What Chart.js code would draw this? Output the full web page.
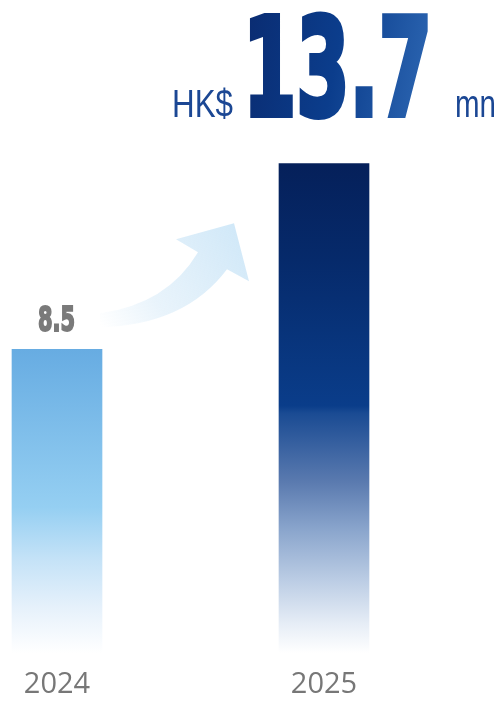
<!DOCTYPE html>
<html>
<head>
<meta charset="utf-8">
<script src="https://cdn.jsdelivr.net/npm/chart.js@4"></script>
<style>
  body { margin: 0; background: #fff; }
  canvas { display: block; }
</style>
</head>
<body>
<canvas id="revenueChart" width="501" height="701"></canvas>
<script>
// data
const years = ["2024", "2025"];
const revenue = [8.5, 13.7];
const valueLabels = ["8.5", ""];
const headlinePrefix = "HK$";
const headlineValue = "13.7";
const headlineUnit = "mn";

// gradient stops for each bar (0 = top of bar, 1 = baseline)
const barStops = [
  [[0, "#67ace2"], [0.52, "#95cff2"], [0.69, "#c4e2f7"], [0.85, "#e6f1fb"], [1, "#ffffff"]],
  [[0, "#05205a"], [0.2, "#062a6b"], [0.495, "#0a3d8a"], [0.51, "#1a4b93"], [0.65, "#5a7aaf"],
   [0.75, "#8ba6cd"], [0.855, "#bdcee5"], [0.94, "#e6edf6"], [1, "#ffffff"]]
];

const barGradient = (context) => {
  const chart = context.chart;
  const { ctx, chartArea, scales } = chart;
  if (!chartArea) return barStops[context.dataIndex][0][1];
  const top = scales.y.getPixelForValue(revenue[context.dataIndex]);
  const bottom = scales.y.getPixelForValue(0);
  const g = ctx.createLinearGradient(0, top, 0, bottom);
  barStops[context.dataIndex].forEach(s => g.addColorStop(s[0], s[1]));
  return g;
};

// draw text squeezed to a given width (heavy condensed look)
function drawSqueezed(ctx, text, left, baseline, font, width, fill, lw) {
  ctx.save();
  ctx.font = font;
  const w = ctx.measureText(text).width;
  const sx = (width - lw) / w;
  ctx.translate(left, baseline);
  ctx.scale(sx, 1);
  const style = typeof fill === "function" ? fill(ctx, w) : fill;
  ctx.textAlign = "left";
  ctx.textBaseline = "alphabetic";
  ctx.fillStyle = style;
  ctx.fillText(text, lw / 2 / sx, 0);
  if (lw) {
    ctx.lineWidth = lw;
    ctx.lineJoin = "miter";
    ctx.strokeStyle = style;
    ctx.strokeText(text, lw / 2 / sx, 0);
  }
  ctx.restore();
}

// curved arrow between the bars
const arrowPlugin = {
  id: "arrow",
  beforeDatasetsDraw(chart) {
    const meta = chart.getDatasetMeta(0);
    const a = meta.data[0], b = meta.data[1];
    if (!a || !b) return;
    const ctx = chart.ctx;
    const ox = a.x, oy = a.y;
    ctx.save();
    const g = ctx.createLinearGradient(ox + 43, oy - 25, ox + 185, oy - 120);
    g.addColorStop(0, "rgba(214,234,248,0)");
    g.addColorStop(0.35, "rgba(214,234,248,0.55)");
    g.addColorStop(1, "rgba(208,232,248,1)");
    ctx.fillStyle = g;
    ctx.beginPath();
    ctx.moveTo(ox + 43, oy - 36);
    ctx.quadraticCurveTo(ox + 110, oy - 45, ox + 141, oy - 97);
    ctx.lineTo(ox + 119, oy - 110);
    ctx.lineTo(ox + 177, oy - 126);
    ctx.lineTo(ox + 192, oy - 68);
    ctx.lineTo(ox + 170, oy - 80);
    ctx.quadraticCurveTo(ox + 128, oy - 24, ox + 43, oy - 22);
    ctx.closePath();
    ctx.fill();
    ctx.restore();
  }
};

// value label above the 2024 bar
const valueLabelPlugin = {
  id: "valueLabel",
  afterDatasetsDraw(chart) {
    const meta = chart.getDatasetMeta(0);
    meta.data.forEach((bar, i) => {
      if (!valueLabels[i]) return;
      drawSqueezed(chart.ctx, valueLabels[i], bar.x - 20, bar.y - 18,
        "bold 33px 'DejaVu Sans'", 39, "#7a7a7a", 2);
    });
  }
};

// big headline over the 2025 bar
const headlinePlugin = {
  id: "headline",
  afterDraw(chart) {
    const ctx = chart.ctx;
    drawSqueezed(ctx, headlinePrefix, 172, 117, "38px 'Liberation Sans'", 61, "#1b4794", 0);
    drawSqueezed(ctx, headlineValue, 240, 115, "bold 136px 'DejaVu Sans'", 195, (c, w) => {
      const g = c.createLinearGradient(0, -100, w, 0);
      g.addColorStop(0, "#0a2b70");
      g.addColorStop(0.5, "#0b3d8c");
      g.addColorStop(1, "#2d67b3");
      return g;
    }, 6);
    drawSqueezed(ctx, headlineUnit, 455, 117, "38px 'Liberation Sans'", 41, "#1b4794", 0);
  }
};

const ctxRevenue = document.getElementById("revenueChart").getContext("2d");
const revenueChart = new Chart(ctxRevenue, {
  type: "bar",
  data: {
    labels: years,
    datasets: [{
      label: "Revenue (HK$ mn)",
      data: revenue,
      backgroundColor: barGradient,
      borderWidth: 0,
      barThickness: 90,
      clip: false
    }]
  },
  options: {
    responsive: false,
    animation: false,
    devicePixelRatio: 1,
    layout: {
      padding: { left: 57, right: 177, top: 10, bottom: 2 }
    },
    plugins: {
      legend: { display: false },
      tooltip: { enabled: false }
    },
    scales: {
      x: {
        offset: false,
        grid: { display: false, drawTicks: false },
        border: { display: false },
        afterFit: (scale) => { scale.height = 46; },
        ticks: {
          color: "#777777",
          padding: 14,
          maxRotation: 0,
          autoSkip: false,
          font: { family: "'Open Sans'", size: 29 }
        }
      },
      y: {
        display: false,
        min: 0,
        max: 18
      }
    }
  },
  plugins: [arrowPlugin, valueLabelPlugin, headlinePlugin]
});
</script>
</body>
</html>
